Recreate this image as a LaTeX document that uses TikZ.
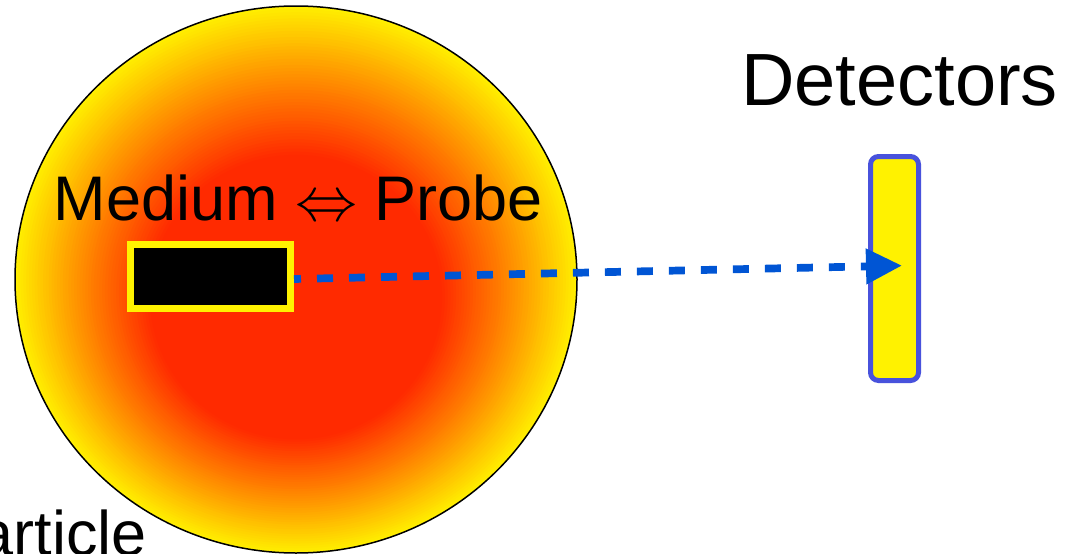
\documentclass[tikz,border=0pt]{standalone}
\usepackage{fontspec}
\setmainfont{Liberation Sans}
\usetikzlibrary{arrows.meta,shapes.geometric}
\definecolor{hotred}{RGB}{255,42,0}
\definecolor{midorange}{RGB}{255,145,0}
\definecolor{edgeyellow}{RGB}{255,238,0}
\definecolor{linkblue}{RGB}{0,85,212}
\definecolor{detblue}{RGB}{72,82,220}
\newcommand{\bigarrowsym}{{\fontsize{10}{12}\selectfont\scalebox{6.2}{$\Leftrightarrow$}}}
\tikzset{
  bigtext/.style={inner sep=0pt,font=\fontsize{63}{70}\selectfont},
  hugetext/.style={inner sep=0pt,font=\fontsize{74}{84}\selectfont},
  probebox/.style={draw=yellow,fill=black,line width=7.5pt,inner sep=0pt,
    minimum width=160pt,minimum height=64pt},
  detbox/.style={draw=detblue,fill=yellow,line width=5pt,rounded corners=8pt,
    inner sep=0pt,minimum width=48pt,minimum height=224pt},
  link/.style={draw=linkblue,line width=7.7pt,dash pattern=on 16pt off 16pt,
    dash phase=9pt,-{Triangle[length=36pt,width=34pt,fill=linkblue]}},
}
\begin{document}
\begin{tikzpicture}[x=1pt,y=-1pt]
\useasboundingbox (0,0) rectangle (1066,554);
% radial glow built from concentric ellipses
\foreach \k in {100,99,...,52}{
  \pgfmathsetmacro\rx{2.81*\k}
  \pgfmathsetmacro\ry{2.735*\k}
  \pgfmathsetmacro\cy{316-0.365*\k}
  \ifnum\k>77
    \pgfmathtruncatemacro\p{(\k-78)*100/22}
    \fill[edgeyellow!\p!midorange] (296,\cy) ellipse [x radius=\rx pt, y radius=\ry pt];
  \else
    \pgfmathtruncatemacro\p{(\k-52)*100/26}
    \fill[midorange!\p!hotred] (296,\cy) ellipse [x radius=\rx pt, y radius=\ry pt];
  \fi
}
\node (blob) [ellipse,draw,line width=1.5pt,inner sep=0pt,
  minimum width=562pt,minimum height=547pt] at (296,279.5) {};
\node (label) [bigtext,anchor=base west] at (53.4,220) {Medium \bigarrowsym{} Probe};
\node (probe) [probebox] at (210.25,276.25) {};
\node (det) [detbox] at (894.5,268.5) {};
\node (dettext) [hugetext,anchor=base west] at (741,105) {Detectors};
\node (particle) [bigtext,anchor=base east] at (147,555) {Particle};
\draw[link] ([yshift=-2.75pt]probe.east) -- ([xshift=34pt,yshift=2.9pt]det.west);
\end{tikzpicture}
\end{document}
